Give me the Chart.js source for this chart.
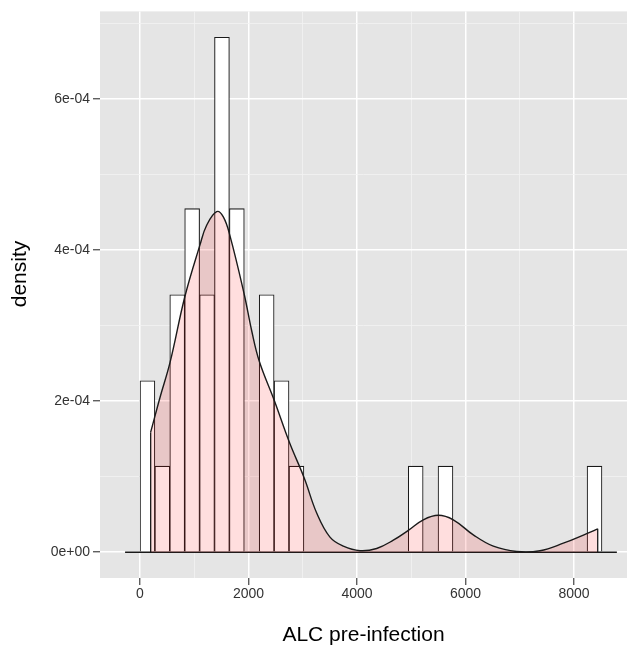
<!DOCTYPE html>
<html>
<head>
<meta charset="utf-8">
<script src="https://cdn.jsdelivr.net/npm/chart.js@4.4.1/dist/chart.umd.min.js"></script>
<style>
  body { margin: 0; background: #fff; }
  #wrap { width: 636px; height: 648px; }
</style>
</head>
<body>
<div id="wrap"><canvas id="myChart" width="636" height="648"></canvas></div>
<script>
// histogram: 31 bins starting at 0, bin width
const binStart = 0;
const binWidth = 274.7;
const histDensity = [
  2.27e-4, 1.14e-4, 3.41e-4, 4.55e-4, 3.41e-4, 6.82e-4, 4.55e-4, 0, 3.41e-4, 2.27e-4, 1.14e-4,
  0, 0, 0, 0, 0, 0, 0, 1.14e-4, 0, 1.14e-4,
  0, 0, 0, 0, 0, 0, 0, 0, 0, 1.14e-4
];

// density curve
const densityX = [197, 369, 553, 829, 1106, 1229, 1413, 1536, 1659, 1923, 2060, 2199, 2476, 2752, 3029, 3257,
  3502, 3748, 4055, 4363, 4670, 4946, 5222, 5499, 5775, 6144, 6513, 6944, 7373, 7803, 8245, 8437];
const densityY = [1.59e-4, 2.05e-4, 2.51e-4, 3.39e-4, 4.07e-4, 4.33e-4, 4.51e-4, 4.44e-4, 4.19e-4, 3.41e-4,
  2.93e-4, 2.53e-4, 2.01e-4, 1.46e-4, 0.98e-4, 0.52e-4, 0.20e-4, 0.08e-4, 0.02e-4, 0.05e-4, 0.16e-4, 0.29e-4,
  0.43e-4, 0.49e-4, 0.43e-4, 0.23e-4, 0.08e-4, 0.01e-4, 0.02e-4, 0.12e-4, 0.25e-4, 0.31e-4];

// axes
const xMajor = [0, 2000, 4000, 6000, 8000];
const xLabels = ['0', '2000', '4000', '6000', '8000'];
const xMinor = [1000, 3000, 5000, 7000];
const yMajor = [0, 2e-4, 4e-4, 6e-4];
const yLabels = ['0e+00', '2e-04', '4e-04', '6e-04'];
const yMinor = [1e-4, 3e-4, 5e-4, 7e-4];

const xTitle = 'ALC pre-infection';
const yTitle = 'density';

const fontFamily = '"Liberation Sans", Arial, Helvetica, sans-serif';

let barData = histDensity.map((d, i) => ({ x: binStart + (i + 0.5) * binWidth, y: d > 0 ? d : null }));
let densityData = densityX.map((x, i) => ({ x: x, y: densityY[i] }));
let lastBin = binStart + histDensity.length * binWidth;
let baseData = [{ x: binStart - binWidth, y: 0 }, { x: lastBin + binWidth, y: 0 }];
let leftEdge = [{ x: densityX[0], y: 0 }, { x: densityX[0], y: densityY[0] }];
let n = densityX.length - 1;
let rightEdge = [{ x: densityX[n], y: 0 }, { x: densityX[n], y: densityY[n] }];

function makeTicks(major, minor) {
  let list = major.map(v => ({ value: v, major: true })).concat(minor.map(v => ({ value: v, major: false })));
  list.sort((a, b) => a.value - b.value);
  return list;
}

function labelFor(value, major, labels) {
  for (let i = 0; i < major.length; i++) {
    if (Math.abs(major[i] - value) < 1e-9) return labels[i];
  }
  return '';
}

const panelBg = {
  id: 'panelBg',
  beforeDraw(chart) {
    const { ctx, chartArea } = chart;
    ctx.save();
    ctx.fillStyle = '#E5E5E5';
    ctx.fillRect(chartArea.left, chartArea.top, chartArea.right - chartArea.left, chartArea.bottom - chartArea.top);
    ctx.restore();
  }
};

// y title sits a bit above the panel centre in the original, so draw it by hand
const yTitlePlugin = {
  id: 'yTitlePlugin',
  afterDraw(chart) {
    const ctx = chart.ctx;
    ctx.save();
    ctx.translate(20, 274);
    ctx.rotate(-Math.PI / 2);
    ctx.fillStyle = '#000000';
    ctx.font = '21px ' + fontFamily;
    ctx.textAlign = 'center';
    ctx.textBaseline = 'middle';
    ctx.fillText(yTitle, 0, 0);
    ctx.restore();
  }
};

const lineStyle = {
  type: 'line',
  borderColor: '#1a1a1a',
  borderWidth: 1.3,
  pointRadius: 0,
  fill: false
};

let myDataset = [
  {
    type: 'bar',
    label: 'hist',
    data: barData,
    backgroundColor: '#ffffff',
    borderColor: '#1a1a1a',
    borderWidth: 1.1,
    barPercentage: 1,
    categoryPercentage: 1,
    order: 4
  },
  Object.assign({}, lineStyle, { label: 'base', data: baseData, order: 3 }),
  {
    type: 'line',
    label: 'density',
    data: densityData,
    borderColor: '#1a1a1a',
    borderWidth: 1.4,
    pointRadius: 0,
    fill: 'origin',
    backgroundColor: 'rgba(255, 0, 0, 0.13)',
    tension: 0.4,
    order: 2
  },
  Object.assign({}, lineStyle, { label: 'left', data: leftEdge, order: 1 }),
  Object.assign({}, lineStyle, { label: 'right', data: rightEdge, order: 1 })
];

let myOptions = {
  responsive: false,
  animation: false,
  layout: { padding: { top: 7, right: 9, left: 0, bottom: 0 } },
  plugins: {
    legend: { display: false },
    tooltip: { enabled: false }
  },
  scales: {
    x: {
      type: 'linear',
      min: -737,
      max: 8977,
      offset: false,
      afterBuildTicks: scale => { scale.ticks = makeTicks(xMajor, xMinor); },
      afterFit: scale => { scale.height = 70; },
      ticks: {
        autoSkip: false,
        maxRotation: 0,
        padding: 1,
        color: '#333333',
        font: { family: fontFamily, size: 14 },
        callback: value => labelFor(value, xMajor, xLabels)
      },
      grid: {
        offset: false,
        color: ctx => (ctx.tick && ctx.tick.major) ? '#ffffff' : '#F2F2F2',
        lineWidth: ctx => (ctx.tick && ctx.tick.major) ? 1.5 : 0.8,
        tickColor: ctx => (ctx.tick && ctx.tick.major) ? '#444444' : 'rgba(0,0,0,0)',
        tickLength: 7,
        tickWidth: 1.2
      },
      border: { display: false },
      title: {
        display: true,
        text: xTitle,
        color: '#000000',
        font: { family: fontFamily, size: 21 },
        padding: { top: 0, bottom: 0 }
      }
    },
    y: {
      type: 'linear',
      min: -0.341e-4,
      max: 7.162e-4,
      afterBuildTicks: scale => { scale.ticks = makeTicks(yMajor, yMinor); },
      afterFit: scale => { scale.width = 100; },
      ticks: {
        autoSkip: false,
        padding: 3,
        color: '#333333',
        font: { family: fontFamily, size: 14 },
        callback: value => labelFor(value, yMajor, yLabels)
      },
      grid: {
        color: ctx => (ctx.tick && ctx.tick.major) ? '#ffffff' : '#F2F2F2',
        lineWidth: ctx => (ctx.tick && ctx.tick.major) ? 1.5 : 0.8,
        tickColor: ctx => (ctx.tick && ctx.tick.major) ? '#444444' : 'rgba(0,0,0,0)',
        tickLength: 7,
        tickWidth: 1.2
      },
      border: { display: false },
      title: { display: false }
    }
  }
};

let myChart = new Chart(document.getElementById('myChart'), {
  type: 'bar',
  data: { datasets: myDataset },
  options: myOptions,
  plugins: [panelBg, yTitlePlugin]
});
</script>
</body>
</html>
